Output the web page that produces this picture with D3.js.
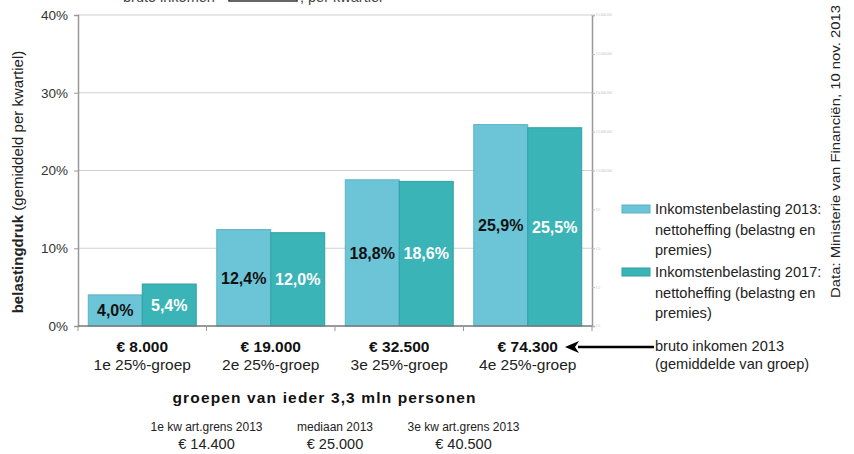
<!DOCTYPE html>
<html><head><meta charset="utf-8">
<script src="https://cdn.jsdelivr.net/npm/d3@7"></script>
<style>body{margin:0;background:#fff}svg{display:block;font-family:"Liberation Sans",Arial,sans-serif}</style>
</head><body><svg id="c" width="854" height="454"></svg>
<script>
const categories = ["1e 25%-groep","2e 25%-groep","3e 25%-groep","4e 25%-groep"];
const incomes = ["€ 8.000","€ 19.000","€ 32.500","€ 74.300"];
const seriesNames = ["Inkomstenbelasting 2013:","Inkomstenbelasting 2017:"];
const series2013 = [4.0, 12.4, 18.8, 25.9];
const series2017 = [5.4, 12.0, 18.6, 25.5];
const yTicks = [0,10,20,30,40];
const boundaryLabels = ["1e kw art.grens 2013","mediaan 2013","3e kw art.grens 2013"];
const boundaryValues = ["€ 14.400","€ 25.000","€ 40.500"];

const svg = d3.select("#c");
const L=78, R=592, T=15, B=326;
const colors = ["#6cc5d7","#3ab4b7"];
const strokes = ["#58b2c4","#2fa0a3"];

const x = d3.scaleBand().domain(categories).range([L,R]).paddingInner(0.16).paddingOuter(0.08);
const xs = d3.scaleBand().domain([0,1]).range([0,x.bandwidth()]);
const y = d3.scaleLinear().domain([0,40]).range([B,T]);

// partial title at top (cut off in the original)
const tt = svg.append("text").attr("y",2).attr("font-size",14.5).attr("fill","#444");
tt.append("tspan").attr("x",123).text("bruto inkomen");
tt.append("tspan").attr("x",300).text(", per kwartiel");
svg.append("rect").attr("x",229).attr("y",-12).attr("width",68).attr("height",13)
  .attr("fill","none").attr("stroke","#333").attr("stroke-width",1.5);

// gridlines
svg.append("g").selectAll("line").data(yTicks.filter(d=>d>0)).join("line")
  .attr("x1",L).attr("x2",R).attr("y1",d=>y(d)).attr("y2",d=>y(d))
  .attr("stroke","#d0d0d0").attr("stroke-width",1.2);

// left axis
const ya = svg.append("g").attr("transform",`translate(${L},0)`)
  .call(d3.axisLeft(y).tickValues(yTicks).tickSize(4).tickFormat(d=>d+"%"));
ya.select(".domain").attr("stroke","#999").attr("stroke-width",1.5);
ya.selectAll(".tick line").attr("stroke","#999");
ya.selectAll("text").attr("font-size",13.5).attr("fill","#333").attr("dx",-3)
  .attr("font-family","Liberation Sans, Arial, sans-serif");

// right secondary axis (tiny labels)
const y2 = d3.scaleLinear().domain([0,8]).range([B,T]);
const ra = svg.append("g").attr("transform",`translate(${R},0)`)
  .call(d3.axisRight(y2).ticks(8).tickSize(3).tickFormat(d=> d>=4 ? "€ 0.000.000" : "€ 0"));
ra.select(".domain").attr("stroke","#999").attr("stroke-width",1.5);
ra.selectAll(".tick line").attr("stroke","#bbb");
ra.selectAll("text").attr("font-size",3).attr("fill","#bbb").attr("dx",-2);

// bars
const groups = svg.append("g").selectAll("g").data(categories).join("g")
  .attr("transform",d=>`translate(${x(d)},0)`);
const vals = [series2013, series2017];
groups.each(function(c,i){
  const g = d3.select(this);
  [0,1].forEach(s=>{
    const v = vals[s][i];
    g.append("rect").attr("x",xs(s)).attr("width",xs.bandwidth())
      .attr("y",y(v)).attr("height",y(0)-y(v))
      .attr("fill",colors[s]).attr("stroke",strokes[s]).attr("stroke-width",1);
    g.append("text").attr("x",xs(s)+xs.bandwidth()/2).attr("y",(y(v)+y(0))/2)
      .attr("dy","0.36em").attr("text-anchor","middle")
      .attr("font-size",16).attr("font-weight","bold")
      .attr("fill", s===0 ? "#111" : "#fff")
      .text(v.toFixed(1).replace(".",",")+"%");
  });
});

// baseline + category ticks
svg.append("line").attr("x1",L).attr("x2",R).attr("y1",B).attr("y2",B).attr("stroke","#777").attr("stroke-width",1.5);
const bounds = categories.map(c=>x(c)-x.step()*x.paddingInner()/2).concat([R]);
svg.append("g").selectAll("line").data(bounds).join("line")
  .attr("x1",d=>d).attr("x2",d=>d).attr("y1",B).attr("y2",B+5).attr("stroke","#999");

// category labels
const cl = svg.append("g").selectAll("g").data(categories).join("g")
  .attr("transform",d=>`translate(${x(d)+x.bandwidth()/2},0)`);
cl.append("text").attr("y",352).attr("text-anchor","middle").attr("font-size",15.5).attr("font-weight","bold").attr("fill","#111")
  .text((d,i)=>incomes[i]);
cl.append("text").attr("y",370).attr("text-anchor","middle").attr("font-size",15.5).attr("fill","#222").text(d=>d);

// x-axis title
svg.append("text").attr("x",324).attr("y",403).attr("text-anchor","middle")
  .attr("font-size",15.5).attr("font-weight","bold").attr("fill","#111")
  .attr("textLength",303).attr("lengthAdjust","spacing")
  .text("groepen van ieder 3,3 mln personen");

// boundary labels
const bx = categories.slice(0,3).map((c,i)=>bounds[i+1]);
const bl = svg.append("g").selectAll("g").data(boundaryLabels).join("g")
  .attr("transform",(d,i)=>`translate(${bx[i]},0)`);
bl.append("text").attr("y",431).attr("text-anchor","middle").attr("font-size",12).attr("fill","#222").text(d=>d);
bl.append("text").attr("y",449).attr("text-anchor","middle").attr("font-size",14.5).attr("fill","#222").text((d,i)=>boundaryValues[i]);

// y title
svg.append("text").attr("transform","translate(23,182) rotate(-90)").attr("text-anchor","middle")
  .attr("font-size",15).attr("fill","#222")
  .call(t=>{t.append("tspan").attr("font-weight","bold").text("belastingdruk");
            t.append("tspan").text(" (gemiddeld per kwartiel)");});

// legend
const leg = svg.append("g").selectAll("g").data(seriesNames).join("g")
  .attr("transform",(d,i)=>`translate(622,${209+i*63})`);
leg.append("rect").attr("x",0).attr("y",-4).attr("width",28).attr("height",8)
  .attr("fill",(d,i)=>colors[i]).attr("stroke",(d,i)=>strokes[i]);
leg.append("text").attr("x",33).attr("y",5).attr("font-size",14.6).attr("fill","#222").text(d=>d);
leg.append("text").attr("x",33).attr("y",25.5).attr("font-size",14.6).attr("fill","#222").text("nettoheffing (belastng en");
leg.append("text").attr("x",33).attr("y",46).attr("font-size",14.6).attr("fill","#222").text("premies)");

// arrow
svg.append("defs").append("marker").attr("id","ah").attr("viewBox","0 0 14 12").attr("refX",1).attr("refY",6)
  .attr("markerUnits","userSpaceOnUse").attr("markerWidth",14).attr("markerHeight",12).attr("orient","auto")
  .append("path").attr("d","M14,6 L0,0 L4,6 L0,12 Z").attr("fill","#000");
svg.append("line").attr("x1",654).attr("x2",578).attr("y1",347).attr("y2",347)
  .attr("stroke","#000").attr("stroke-width",2.5).attr("marker-end","url(#ah)");
svg.append("text").attr("x",655).attr("y",351).attr("font-size",14.6).attr("fill","#222").text("bruto inkomen 2013");
svg.append("text").attr("x",655).attr("y",369).attr("font-size",14.6).attr("fill","#222").text("(gemiddelde van groep)");

// source
svg.append("text").attr("transform","translate(840,298) rotate(-90)").attr("font-size",13.5).attr("fill","#222")
  .attr("textLength",293).attr("lengthAdjust","spacingAndGlyphs")
  .text("Data: Ministerie van Financiën, 10 nov. 2013");
</script></body></html>
